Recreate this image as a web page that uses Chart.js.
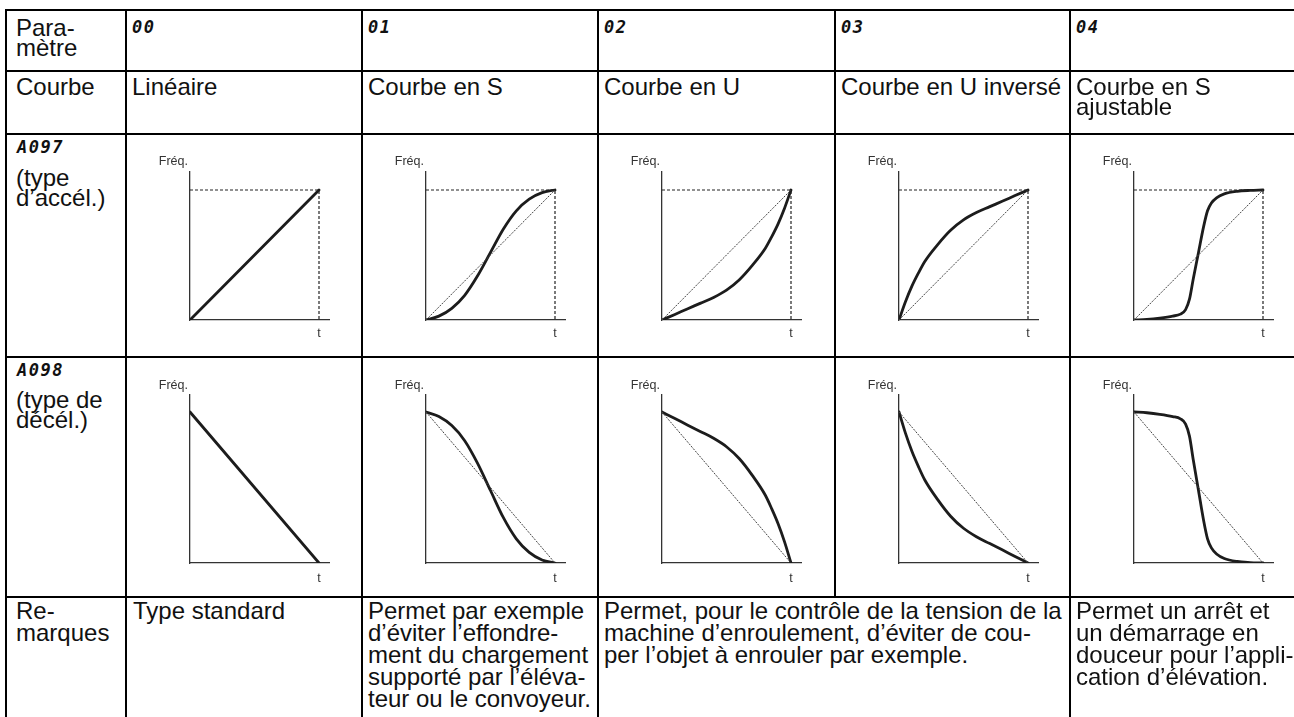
<!DOCTYPE html>
<html lang="fr">
<head>
<meta charset="UTF-8">
<title>Courbes d'accélération / décélération</title>
<script src="https://cdn.jsdelivr.net/npm/chart.js"></script>
<style>
  body { margin: 0; background: #fff; }
  #page { position: relative; width: 1294px; height: 717px; overflow: hidden; background: #fff;
          font-family: "Liberation Sans", Arial, Helvetica, sans-serif; color: #111; }
  .ln { position: absolute; background: #000; }
  .txt { position: absolute; font-size: 24px; white-space: nowrap; }
  .code { position: absolute; font-family: "DejaVu Sans Mono", monospace; font-weight: bold; font-style: italic;
          font-size: 17px; line-height: 17px; letter-spacing: 1.5px; }
  canvas { position: absolute; }
</style>
</head>
<body>
<div id="page"></div>
<script>
// ---- contenu du tableau ----
const paramCodes = ['00', '01', '02', '03', '04'];
const curveNames = [['Linéaire'], ['Courbe en S'], ['Courbe en U'], ['Courbe en U inversé'], ['Courbe en S', 'ajustable']];
const remarks = [
    ['Type standard'],
    ['Permet par exemple', 'd’éviter l’effondre-', 'ment du chargement', 'supporté par l’éléva-', 'teur ou le convoyeur.'],
    ['Permet, pour le contrôle de la tension de la', 'machine d’enroulement, d’éviter de cou-', 'per l’objet à enrouler par exemple.'],
    ['Permet un arrêt et', 'un démarrage en', 'douceur pour l’appli-', 'cation d’élévation.']
];

// ---- courbes (t, fréq. normalisées) ----
const linX = [0, 1];
const linAcc = [0, 1];
const linDec = [1, 0];

const sX   = [0, 0.1, 0.2, 0.3, 0.4, 0.5, 0.6, 0.7, 0.8, 0.9, 1];
const sAcc = [0, 0.03, 0.09, 0.19, 0.34, 0.52, 0.7, 0.84, 0.93, 0.98, 1];
const sDec = [1, 0.97, 0.91, 0.81, 0.66, 0.48, 0.3, 0.16, 0.07, 0.02, 0];

const uX   = [0, 0.1, 0.2, 0.3, 0.4, 0.5, 0.6, 0.7, 0.8, 0.85, 0.9, 0.95, 1];
const uAcc = [0, 0.043, 0.087, 0.13, 0.174, 0.23, 0.31, 0.42, 0.55, 0.64, 0.74, 0.86, 1];
const uDec = [1, 0.957, 0.913, 0.87, 0.826, 0.77, 0.69, 0.58, 0.45, 0.36, 0.26, 0.14, 0];

const invX   = [0, 0.05, 0.1, 0.15, 0.2, 0.3, 0.4, 0.5, 0.6, 0.7, 0.8, 0.9, 1];
const invAcc = [0, 0.14, 0.26, 0.36, 0.45, 0.58, 0.69, 0.77, 0.826, 0.87, 0.913, 0.957, 1];
const invDec = [1, 0.86, 0.74, 0.64, 0.55, 0.42, 0.31, 0.23, 0.174, 0.13, 0.087, 0.043, 0];

const adjX   = [0, 0.1, 0.2, 0.3, 0.36, 0.4, 0.43, 0.46, 0.5, 0.54, 0.57, 0.6, 0.64, 0.7, 0.8, 0.9, 1];
const adjAcc = [0, 0.005, 0.015, 0.03, 0.045, 0.08, 0.16, 0.32, 0.52, 0.72, 0.84, 0.9, 0.94, 0.97, 0.99, 0.997, 1];
const adjDec = [1, 0.995, 0.985, 0.97, 0.955, 0.92, 0.84, 0.68, 0.48, 0.28, 0.16, 0.1, 0.06, 0.03, 0.01, 0.003, 0];

// droite de référence et limites en pointillés
const refX = [0, 1];
const refAcc = [0, 1];
const refDec = [1, 0];
const limX = [0, 1, 1];
const limY = [1, 1, 0];

// ---- mise en page ----
const colX = [6, 126, 362, 598, 835, 1070];
const colW = 236;
const rowY = [10, 71, 134, 357, 597];
const page = document.getElementById('page');

function line(x, y, w, h) {
    const d = document.createElement('div');
    d.className = 'ln';
    d.style.cssText = `left:${x}px;top:${y}px;width:${w}px;height:${h}px`;
    page.appendChild(d);
}
// baseline = ligne de base de la première ligne
function text(lines, x, baseline, lh) {
    const d = document.createElement('div');
    d.className = 'txt';
    d.style.left = x + 'px';
    d.style.lineHeight = lh + 'px';
    d.style.top = (baseline - (lh - 27.8) / 2 - 21.7) + 'px';
    d.innerHTML = lines.join('<br>');
    page.appendChild(d);
}
function code(str, x, cy) {
    const d = document.createElement('div');
    d.className = 'code';
    d.style.left = x + 'px';
    d.style.top = (cy - 8.2) + 'px';
    d.textContent = str;
    page.appendChild(d);
}

const axisLabels = {
    id: 'axisLabels',
    afterDraw(chart) {
        const { ctx, chartArea, scales } = chart;
        const o = chart.options.plugins.axisLabels;
        ctx.save();
        ctx.font = '12.5px "Liberation Sans", Arial, sans-serif';
        ctx.fillStyle = '#333';
        ctx.textBaseline = 'middle';
        ctx.textAlign = 'right';
        ctx.fillText('Fréq.', chartArea.left - 2, chartArea.top - o.up);
        ctx.textAlign = 'center';
        ctx.fillText('t', scales.x.getPixelForValue(1), chartArea.bottom + o.down);
        ctx.restore();
    }
};

function pts(xs, ys) { return xs.map((x, i) => ({ x: x, y: ys[i] })); }

function drawChart(col, rowTop, rowBottom, padTop, padBottom, unitPx, curveX, curveY, withRef, accel) {
    const c = document.createElement('canvas');
    const h = rowBottom - rowTop;
    c.width = colW; c.height = h;
    c.style.left = colX[col] + 'px';
    c.style.top = rowTop + 'px';
    page.appendChild(c);

    const datasets = [];
    if (withRef) {
        datasets.push({ data: pts(refX, accel ? refAcc : refDec), borderColor: '#444', borderWidth: 1, borderDash: [2, 1.2] });
    }
    if (accel) {
        datasets.push({ data: pts(limX, limY), borderColor: '#222', borderWidth: 1.2, borderDash: [3, 2] });
    }
    datasets.push({ data: pts(curveX, curveY), borderColor: '#1c1c1c', borderWidth: 2.8,
                    cubicInterpolationMode: 'monotone', borderCapStyle: 'round', borderJoinStyle: 'round' });

    const plotH = h - padTop - padBottom;
    new Chart(c, {
        type: 'line',
        data: { datasets: datasets.map(d => Object.assign({ pointRadius: 0, fill: false }, d)) },
        options: {
            responsive: false, animation: false, events: [],
            layout: { padding: { left: 64, right: colW - 64 - 139, top: padTop, bottom: padBottom } },
            plugins: { legend: { display: false }, tooltip: { enabled: false },
                       axisLabels: { up: accel ? 10 : 9, down: accel ? 14 : 16 } },
            scales: {
                x: { type: 'linear', min: 0, max: 139 / 129,
                     grid: { display: false, drawTicks: false }, ticks: { display: false },
                     border: { display: true, color: '#333', width: 1.3 } },
                y: { type: 'linear', min: 0, max: plotH / unitPx,
                     grid: { display: false, drawTicks: false }, ticks: { display: false },
                     border: { display: true, color: '#333', width: 1.3 } }
            }
        },
        plugins: [axisLabels]
    });
}

const accCurves = [[linX, linAcc], [sX, sAcc], [uX, uAcc], [invX, invAcc], [adjX, adjAcc]];
const decCurves = [[linX, linDec], [sX, sDec], [uX, uDec], [invX, invDec], [adjX, adjDec]];
for (let i = 0; i < 5; i++) {
    drawChart(i + 1, rowY[2], rowY[3], 38, 37, 130, accCurves[i][0], accCurves[i][1], i > 0, true);
    drawChart(i + 1, rowY[3], rowY[4], 38, 34, 151, decCurves[i][0], decCurves[i][1], i > 0, false);
}

// textes
text(['Para-', 'mètre'], 16, 36, 20.5);
text(['Courbe'], 16, 95, 20.5);
text(['(type', 'd’accél.)'], 16, 186, 20.5);
text(['(type de', 'décél.)'], 16, 408, 20.5);
text(['Re-', 'marques'], 16, 619, 21.5);
code('A097', 17, 147);
code('A098', 17, 370);
for (let i = 0; i < 5; i++) {
    code(paramCodes[i], colX[i + 1] + 6, 27);
    text(curveNames[i], colX[i + 1] + 6, 95, 20.5);
}
text(remarks[0], colX[1] + 7, 619, 22);
text(remarks[1], colX[2] + 6, 619, 22);
text(remarks[2], colX[3] + 6, 619, 22);
text(remarks[3], colX[5] + 6, 619, 22);

// traits du tableau
const t = 2.8;
rowY.forEach(y => line(colX[0] - t / 2, y - t / 2, 1294 - colX[0] + t, t));
colX.forEach((x, i) => {
    const bottom = i === 4 ? rowY[4] : 717;
    line(x - t / 2, rowY[0] - t / 2, t, bottom - rowY[0] + t / 2);
});
</script>
</body>
</html>
